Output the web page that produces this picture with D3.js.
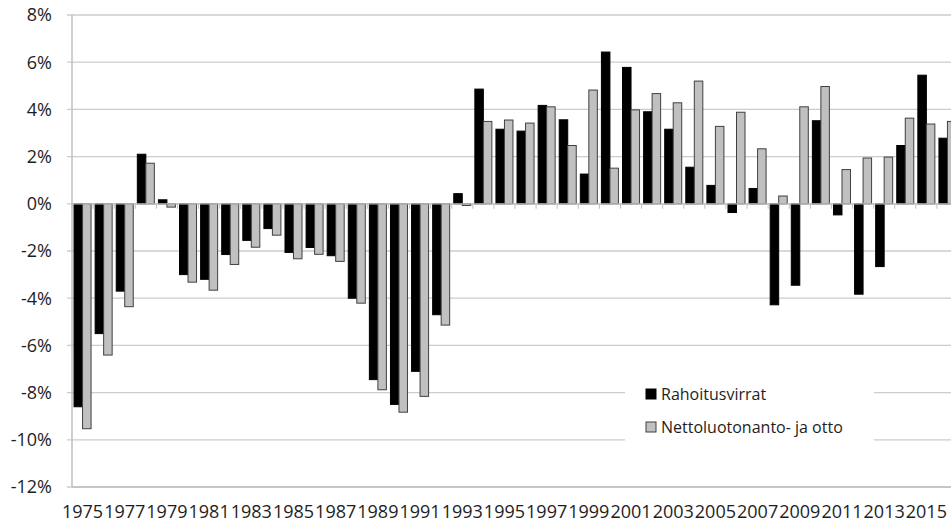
<!DOCTYPE html>
<html>
<meta charset="utf-8">
<head>
<title>Rahoitusvirrat ja nettoluotonanto</title>
<style>
  body { margin: 0; background: #fff; }
  text { font-family: "Open Sans", Lato, sans-serif; fill: #1e1e1e; }
</style>
</head>
<body>
<script src="https://d3js.org/d3.v7.min.js"></script>
<script>

// data, % of GDP
var years = d3.range(1975, 2017);
var rahoitus = [-8.6, -5.5, -3.7, 2.1, 0.17, -3.0, -3.2, -2.15, -1.55, -1.05,
  -2.06, -1.85, -2.2, -4.0, -7.45, -8.5, -7.1, -4.7, 0.43, 4.86,
  3.16, 3.08, 4.17, 3.56, 1.26, 6.43, 5.78, 3.9, 3.16, 1.55,
  0.78, -0.37, 0.65, -4.28, -3.45, 3.52, -0.47, -3.83, -2.66, 2.47,
  5.45, 2.78];
var netto = [-9.53, -6.41, -4.36, 1.72, -0.14, -3.32, -3.66, -2.57, -1.84, -1.33,
  -2.33, -2.14, -2.44, -4.21, -7.88, -8.83, -8.16, -5.14, -0.07, 3.49,
  3.55, 3.42, 4.11, 2.47, 4.82, 1.51, 3.98, 4.67, 4.28, 5.2,
  3.28, 3.88, 2.33, 0.33, 4.11, 4.97, 1.45, 1.94, 1.98, 3.63,
  3.38, 3.49];
var seriesNames = ["Rahoitusvirrat", "Nettoluotonanto- ja otto"];
var yTicks = [-12, -10, -8, -6, -4, -2, 0, 2, 4, 6, 8];

var width = 951, height = 523;
var margin = {left: 72, top: 15, bottom: 36};
var plotRight = 958; // last category runs off the page edge

var svg = d3.select("body").append("svg")
  .attr("width", width)
  .attr("height", height);

// scales
var x = d3.scaleBand().domain(years).range([margin.left, plotRight]);
var xs = d3.scaleBand().domain([0, 1]).range([0, x.bandwidth()]).paddingOuter(0.24);
var y = d3.scaleLinear().domain([-12, 8]).range([height - margin.bottom, margin.top]);
var color = ["#000000", "#c0c0c0"];
var stroke = ["#000000", "#404040"];

// gridlines
svg.append("g")
  .selectAll("line")
  .data(yTicks)
  .enter().append("line")
  .attr("x1", margin.left - 5)
  .attr("x2", plotRight)
  .attr("y1", function(d) { return y(d); })
  .attr("y2", function(d) { return y(d); })
  .attr("stroke", "#cccccc")
  .attr("stroke-width", 1.3);

// y axis labels
svg.append("g")
  .selectAll("text")
  .data(yTicks)
  .enter().append("text")
  .attr("x", margin.left - 20)
  .attr("y", function(d) { return y(d); })
  .attr("dy", "0.36em")
  .attr("text-anchor", "end")
  .style("font-size", "18px")
  .text(function(d) { return d + "%"; });

// y axis line
svg.append("line")
  .attr("x1", margin.left).attr("x2", margin.left)
  .attr("y1", y(8)).attr("y2", y(-12))
  .attr("stroke", "#bfbfbf").attr("stroke-width", 1.5);

// bars
var data = years.map(function(yr, i) { return {year: yr, vals: [rahoitus[i], netto[i]]}; });
var group = svg.append("g").selectAll("g")
  .data(data)
  .enter().append("g")
  .attr("transform", function(d) { return "translate(" + x(d.year) + ",0)"; });

group.selectAll("rect")
  .data(function(d) { return d.vals.map(function(v, k) { return {k: k, v: v}; }); })
  .enter().append("rect")
  .attr("x", function(d) { return xs(d.k); })
  .attr("width", xs.bandwidth())
  .attr("y", function(d) { return y(Math.max(0, d.v)); })
  .attr("height", function(d) { return Math.abs(y(d.v) - y(0)); })
  .attr("fill", function(d) { return color[d.k]; })
  .attr("stroke", function(d) { return stroke[d.k]; })
  .attr("stroke-width", 1);

// category axis at zero, ticks between categories
var cats = svg.append("g");
cats.append("line")
  .attr("x1", margin.left).attr("x2", plotRight)
  .attr("y1", y(0)).attr("y2", y(0))
  .attr("stroke", "#bfbfbf").attr("stroke-width", 1.3);
cats.selectAll(".tick")
  .data(years)
  .enter().append("line")
  .attr("x1", function(d) { return x(d); })
  .attr("x2", function(d) { return x(d); })
  .attr("y1", y(0))
  .attr("y2", y(0) + 5)
  .attr("stroke", "#bfbfbf");

// bottom axis line
svg.append("line")
  .attr("x1", margin.left).attr("x2", plotRight)
  .attr("y1", y(-12)).attr("y2", y(-12))
  .attr("stroke", "#bfbfbf").attr("stroke-width", 1.5);

// year labels, every other one, at the bottom
svg.append("g")
  .selectAll("text")
  .data(years.filter(function(d, i) { return i % 2 === 0; }))
  .enter().append("text")
  .attr("x", function(d) { return x(d) + x.bandwidth() / 2; })
  .attr("y", 518)
  .attr("text-anchor", "middle")
  .style("font-size", "18px")
  .text(function(d) { return d; });

// legend
var legend = svg.append("g");
legend.append("rect")
  .attr("x", 625).attr("y", 372)
  .attr("width", 249).attr("height", 82)
  .attr("fill", "#fff");
var item = legend.selectAll(".item")
  .data(seriesNames)
  .enter().append("g")
  .attr("transform", function(d, i) { return "translate(646," + (389 + i * 33) + ")"; });
item.append("rect")
  .attr("width", 10).attr("height", 10)
  .attr("fill", function(d, i) { return color[i]; })
  .attr("stroke", function(d, i) { return stroke[i]; });
item.append("text")
  .attr("x", 15)
  .attr("y", 10.5)
  .style("font-size", "16px")
  .text(function(d) { return d; });

</script>
</body>
</html>
